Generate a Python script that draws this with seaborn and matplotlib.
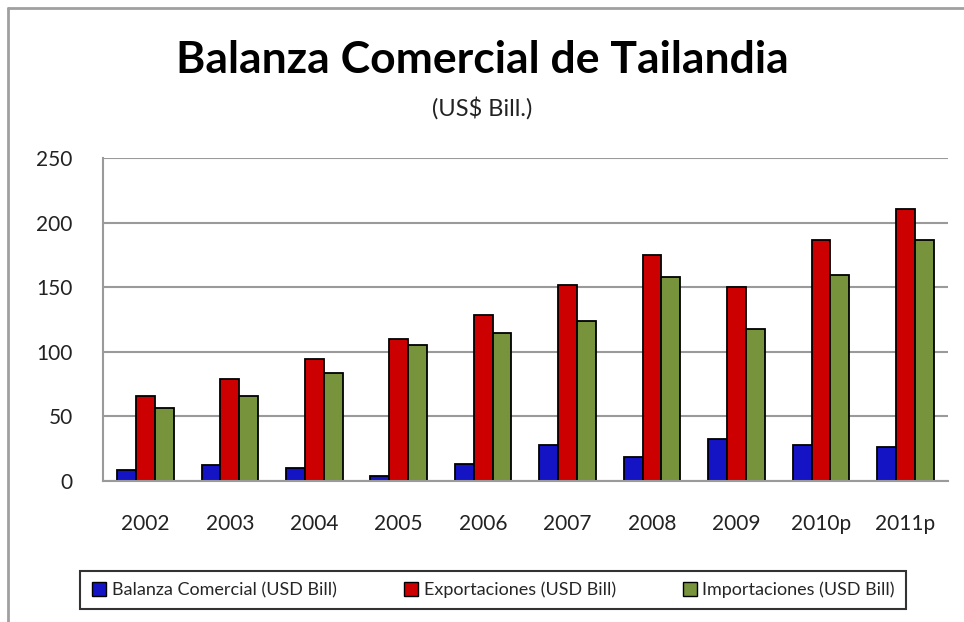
import matplotlib
matplotlib.use("Agg")
import matplotlib.pyplot as plt
from matplotlib.lines import Line2D
import pandas as pd
import seaborn as sns

# values (US$ billion)
years = ["2002", "2003", "2004", "2005", "2006", "2007", "2008", "2009", "2010p", "2011p"]
balanza = [8.8, 12.2, 10.4, 4.2, 13.5, 27.7, 18.4, 32.3, 27.7, 26.1]
exportaciones = [66.2, 78.6, 94.4, 109.6, 128.7, 151.8, 175.2, 150.2, 186.4, 210.9]
importaciones = [56.9, 66.2, 83.5, 105.0, 114.5, 123.8, 158.2, 117.6, 159.7, 186.4]
series_names = ["Balanza Comercial (USD Bill)", "Exportaciones (USD Bill)", "Importaciones (USD Bill)"]
colors = ["#1414C4", "#CC0000", "#77933C"]

df = pd.DataFrame({
    "year": years * 3,
    "value": balanza + exportaciones + importaciones,
    "serie": [s for s in series_names for _ in years],
})

sns.set_style("white")
plt.rcParams["font.family"] = ["Lato", "DejaVu Sans"]

fig = plt.figure(figsize=(9.64, 6.22), dpi=100)
ax = fig.add_axes([0.107, 0.2267, 0.876, 0.519])

sns.barplot(
    data=df, x="year", y="value", hue="serie", palette=colors,
    width=0.67, edgecolor="black", linewidth=1.3, saturation=1,
    legend=False, ax=ax,
)

ax.set_ylim(0, 250)
ax.set_yticks(range(0, 251, 50))
ax.set_xlim(-0.5, len(years) - 0.5)
ax.yaxis.grid(True, color="#9a9a9a", linewidth=1.5)
ax.set_axisbelow(True)
for side in ["top", "right"]:
    ax.spines[side].set_visible(False)
for side in ["left", "bottom"]:
    ax.spines[side].set_color("#9a9a9a")
    ax.spines[side].set_linewidth(1.5)
ax.tick_params(axis="y", direction="out", length=8, width=1.5, color="#9a9a9a",
               labelsize=15, labelcolor="#222222", pad=14)
ax.tick_params(axis="x", length=0, labelsize=15, labelcolor="#222222", pad=24)
ax.set_xlabel("")
ax.set_ylabel("")

fig.text(0.5, 0.903, "Balanza Comercial de Tailandia", ha="center", va="center",
         fontsize=32, fontweight="bold", color="black")
fig.text(0.5, 0.826, "(US$ Bill.)", ha="center", va="center", fontsize=17, color="#222222")

handles = [Line2D([0], [0], marker="s", linestyle="none", markersize=10,
                  markerfacecolor=c, markeredgecolor="black", markeredgewidth=1)
           for c in colors]
leg = fig.legend(handles, series_names, loc="center", bbox_to_anchor=(0.511, 0.0515),
                 ncol=3, fontsize=13, frameon=True, fancybox=False, handletextpad=0.2,
                 columnspacing=3.6, borderpad=0.6, handlelength=1.0, borderaxespad=0)
leg.get_frame().set_edgecolor("black")
leg.get_frame().set_linewidth(1.5)

# outer chart border (left and top visible in the reference)
fig.add_artist(Line2D([0.0088, 0.0088], [0, 0.987], color="#a0a0a0", linewidth=2))
fig.add_artist(Line2D([0.0088, 1.0], [0.987, 0.987], color="#a0a0a0", linewidth=2))

fig.savefig("out.png", dpi=100)
